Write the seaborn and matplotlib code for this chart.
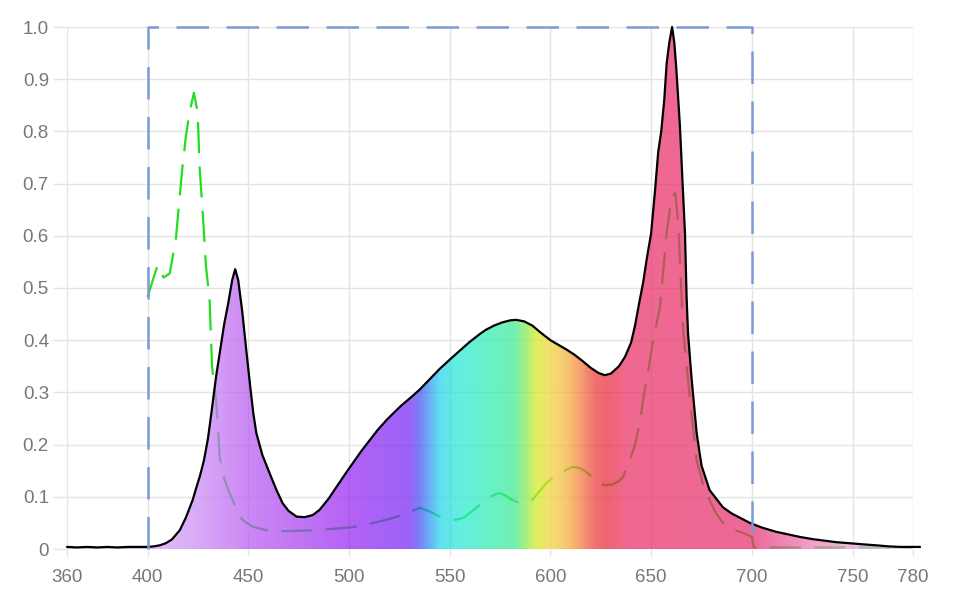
import numpy as np
import matplotlib.pyplot as plt
import seaborn as sns
from matplotlib.colors import to_rgb

# LED spectrum (relative intensity)
wavelength = [360, 365, 370, 375, 380, 385, 390, 395, 400, 403, 406, 409, 412, 416, 419, 422.4,
              424, 426, 428, 430, 432, 434, 436, 438, 440, 442, 443.5, 445, 447, 449, 451,
              452.5, 454, 457, 460.6, 464, 467, 470, 474, 478, 482, 485.4, 490, 494, 498,
              502, 506, 510, 514, 518.6, 522, 526, 530, 535, 540, 545, 551.5, 555, 560, 565,
              568, 572, 576, 580, 583, 587, 591, 595, 600, 604, 608, 612, 616, 620, 624, 627,
              630, 634, 637, 640, 642, 644, 646, 648, 650, 652, 653.5, 655, 656.5, 657.7, 659,
              660.4, 661.5, 662.5, 664.3, 665.5, 666.8, 667.6, 668.3, 670, 672.6, 675, 679,
              685.6, 690, 695, 699, 705, 712, 718, 724, 730, 736, 742, 748.7, 755, 762, 768,
              773.6, 778, 783.5]
intensity = [0.004, 0.003, 0.004, 0.003, 0.004, 0.003, 0.004, 0.004, 0.004, 0.005, 0.007, 0.011,
             0.018, 0.036, 0.06, 0.094, 0.115, 0.14, 0.17, 0.212, 0.27, 0.33, 0.38, 0.43, 0.47,
             0.515, 0.536, 0.515, 0.455, 0.381, 0.31, 0.26, 0.222, 0.18, 0.145, 0.113, 0.088,
             0.073, 0.062, 0.061, 0.065, 0.075, 0.097, 0.12, 0.143, 0.165, 0.187, 0.207, 0.227,
             0.247, 0.26, 0.275, 0.288, 0.305, 0.325, 0.345, 0.368, 0.38, 0.397, 0.412, 0.42,
             0.428, 0.434, 0.438, 0.439, 0.436, 0.428, 0.415, 0.4, 0.391, 0.382, 0.372, 0.36,
             0.347, 0.337, 0.333, 0.336, 0.35, 0.368, 0.395, 0.428, 0.47, 0.51, 0.56, 0.605,
             0.69, 0.76, 0.8, 0.86, 0.93, 0.97, 1.0, 0.97, 0.92, 0.81, 0.71, 0.605, 0.483,
             0.414, 0.33, 0.222, 0.16, 0.113, 0.08, 0.068, 0.058, 0.05, 0.041, 0.033, 0.028,
             0.023, 0.019, 0.016, 0.013, 0.011, 0.009, 0.007, 0.005, 0.004, 0.004, 0.004]

# absorption curve (green dashed line)
abs_wavelength = [400, 405, 408, 411, 414, 415.5, 417, 419, 421, 423, 424.9, 425.8, 427.4, 429,
                  430.8, 432, 434, 434.8, 435.8, 438, 440.7, 444, 447, 452, 459, 470, 484, 493,
                  502, 510, 518.6, 527, 535, 540, 545, 549, 553, 557, 560, 564, 568, 572, 575,
                  578, 581, 585, 588, 591, 594, 598, 601, 604.7, 608, 611, 614, 617, 620, 623,
                  627, 631, 634, 636, 639.4, 642, 644.4, 646, 648.5, 651, 654.4, 657.7, 660,
                  662, 663.5, 665, 666, 669.3, 672.6, 676, 679, 682, 685.6, 690, 695.6, 700,
                  701, 710, 730, 750, 780]
absorption = [0.483, 0.544, 0.52, 0.528, 0.592, 0.655, 0.72, 0.79, 0.84, 0.874, 0.835, 0.733,
              0.643, 0.541, 0.477, 0.35, 0.285, 0.241, 0.176, 0.135, 0.107, 0.078, 0.056, 0.043,
              0.036, 0.034, 0.036, 0.039, 0.042, 0.048, 0.056, 0.066, 0.079, 0.072, 0.062,
              0.057, 0.056, 0.06, 0.069, 0.082, 0.094, 0.104, 0.107, 0.102, 0.094, 0.088,
              0.088, 0.094, 0.108, 0.126, 0.136, 0.145, 0.152, 0.157, 0.156, 0.15, 0.14,
              0.128, 0.122, 0.124, 0.13, 0.138, 0.17, 0.2, 0.241, 0.285, 0.34, 0.4, 0.464,
              0.605, 0.67, 0.683, 0.62, 0.49, 0.414, 0.285, 0.17, 0.12, 0.094, 0.07, 0.05,
              0.038, 0.031, 0.023, 0.003, 0.003, 0.003, 0.003, 0.003]

# PAR window (dashed box)
par_range = [400, 700]

x_ticks = [360, 400, 450, 500, 550, 600, 650, 700, 750, 780]
y_ticks = [0, 0.1, 0.2, 0.3, 0.4, 0.5, 0.6, 0.7, 0.8, 0.9, 1.0]
y_labels = ["0", "0.1", "0.2", "0.3", "0.4", "0.5", "0.6", "0.7", "0.8", "0.9", "1.0"]

# rainbow fill, colour as seen on screen at each wavelength
stop_nm = [360, 400, 420, 450, 500, 530, 535, 540, 545, 555, 570, 582, 588, 593, 600, 608,
           615, 622, 628, 638, 700, 730, 760, 784]
stop_color = ["#e6c8fa", "#e2bcf8", "#dcb0f8", "#cc88f5", "#b462f5", "#9c62f8", "#7a80f8",
              "#68b0f8", "#60e0f0", "#62f0e0", "#68f2c8", "#72f0b0", "#a8f080", "#e0f060",
              "#f5e070", "#f7c870", "#f6a070", "#f27070", "#f06470", "#f06890", "#ee6898",
              "#f0a0c8", "#e8c8e8", "#eadcf0"]
fill_alpha = 0.72

sns.set_theme(style="white")
plt.rcParams['font.family'] = ['Liberation Sans', 'DejaVu Sans']

fig = plt.figure(figsize=(9.54, 6.04), dpi=100)
ax = fig.add_axes([67 / 954, 55 / 604, 846 / 954, 522 / 604])

# green dashed absorption curve, under the translucent fill
sns.lineplot(x=abs_wavelength, y=absorption, ax=ax, color="#22dd22", lw=1.6,
             linestyle=(0, (14, 6)), zorder=2, clip_on=False)

# gradient fill under the spectrum
fine = np.linspace(360, 784, 1200)
rgb = np.array([to_rgb(c) for c in stop_color])
rgb = (rgb - (1 - fill_alpha)) / fill_alpha
rgb = np.clip(rgb, 0, 1)
img = np.stack([np.interp(fine, stop_nm, rgb[:, k]) for k in range(3)], axis=-1)[None, :, :]
poly = ax.fill_between(wavelength, intensity, 0, facecolor="none", edgecolor="none")
im = ax.imshow(img, extent=[360, 784, 0, 1.0], aspect="auto", alpha=fill_alpha,
               zorder=3, interpolation="bilinear")
im.set_clip_path(poly.get_paths()[0], transform=ax.transData)

# spectrum outline
sns.lineplot(x=wavelength, y=intensity, ax=ax, color="black", lw=1.6, zorder=4, clip_on=False)

# PAR box
box_x = [par_range[0], par_range[0], par_range[1], par_range[1]]
box_y = [0, 1.0, 1.0, 0]
ax.plot(box_x, box_y, color="#7b9bd6", lw=1.8, linestyle=(0, (13, 7)), zorder=5, clip_on=False)

ax.set_xlim(360, 780)
ax.set_ylim(0, 1.0)
ax.set_xticks(x_ticks)
ax.set_yticks(y_ticks)
ax.set_yticklabels(y_labels)
ax.grid(True, color="#e4e4e4", lw=1)
ax.set_axisbelow(True)
for s in ax.spines.values():
    s.set_visible(False)
ax.axhline(0, color="#d0d0d0", lw=1, zorder=1)
ax.tick_params(axis="y", length=10, width=1, color="#e4e4e4", pad=3,
               labelsize=13.5, labelcolor="#777777", left=True)
ax.tick_params(axis="x", length=5, width=1, color="#e4e4e4", pad=9.5,
               labelsize=13.5, labelcolor="#777777", bottom=True)
ax.set_xlabel("")
ax.set_ylabel("")

fig.savefig("out.png", dpi=100)
